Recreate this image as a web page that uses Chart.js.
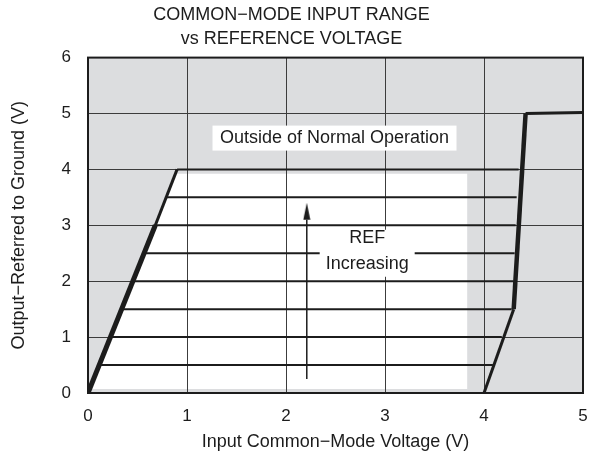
<!DOCTYPE html>
<html>
<head>
<meta charset="utf-8">
<script src="https://cdn.jsdelivr.net/npm/chart.js@4.4.0/dist/chart.umd.min.js"></script>
<style>
  html, body { margin: 0; padding: 0; background: #fff; }
  #wrap { width: 593px; height: 461px; }
</style>
</head>
<body>
<div id="wrap"><canvas id="chart" width="593" height="461"></canvas></div>
<script>
const xTicks = [0, 1, 2, 3, 4, 5];
const yTicks = [0, 1, 2, 3, 4, 5, 6];

// grey "outside" area and the white normal-operation area
const outsideX = [0, 5, 5, 0, 0];
const outsideY = [0, 0, 6, 6, 0];
const normalX = [0.02, 3.83, 3.83, 0.88, 0.02];
const normalY = [0.07, 0.07, 3.92, 3.92, 0.07];

// one horizontal line per REF step
const refLevels = [0.5, 1.0, 1.5, 2.0, 2.5, 3.0, 3.5, 4.0];
const refStart = [0.11, 0.22, 0.34, 0.45, 0.56, 0.67, 0.79, 0.90];
const refEnd = [4.09, 4.18, 4.28, 4.30, 4.31, 4.32, 4.33, 4.35];

// boundaries of the range
const leftEdgeX = [0, 0.68, 0.9];
const leftEdgeY = [0, 3.0, 4.0];
const rightEdgeX = [4.0, 4.3, 4.42, 5.0];
const rightEdgeY = [0, 1.5, 5.0, 5.02];

// "REF increasing" arrow
const arrowX = [2.21, 2.21];
const arrowY = [0.25, 3.1];

const FONT = "'Liberation Sans', Arial, sans-serif";
const INK = "#1c1c1c";

const pts = (xs, ys) => xs.map((x, i) => ({ x: x, y: ys[i] }));

// narrow arrow head, tip at the top of the upper half
const head = document.createElement("canvas");
head.width = 8;
head.height = 34;
const hc = head.getContext("2d");
hc.fillStyle = INK;
hc.beginPath();
hc.moveTo(4, 0);
hc.lineTo(7.5, 17);
hc.lineTo(0.5, 17);
hc.closePath();
hc.fill();

const notes = [
  { x: 2.49, y: 4.56, w: 244, h: 25, dy: 0, lines: ["Outside of Normal Operation"] },
  { x: 2.82, y: 2.50, w: 95, h: 47, dy: -2, lines: ["REF", "Increasing"] },
];

const notesPlugin = {
  id: "notes",
  afterDatasetsDraw(chart) {
    const { ctx, scales } = chart;
    ctx.save();
    ctx.font = "18px " + FONT;
    ctx.textAlign = "center";
    ctx.textBaseline = "middle";
    notes.forEach((n) => {
      const cx = scales.x.getPixelForValue(n.x);
      const cy = scales.y.getPixelForValue(n.y);
      ctx.fillStyle = "#fff";
      ctx.fillRect(cx - n.w / 2, cy - n.h / 2, n.w, n.h);
      ctx.fillStyle = INK;
      const lh = 25.5;
      const y0 = cy + n.dy - ((n.lines.length - 1) * lh) / 2;
      n.lines.forEach((t, i) => ctx.fillText(t, cx, y0 + i * lh));
    });
    ctx.restore();
  },
  afterDraw(chart) {
    const { ctx, chartArea: a } = chart;
    ctx.save();
    ctx.strokeStyle = INK;
    ctx.lineWidth = 2;
    ctx.strokeRect(a.left, a.top, a.right - a.left, a.bottom - a.top);
    ctx.restore();
  },
};

const plain = { showLine: true, pointRadius: 0, fill: false, borderColor: INK };

const datasets = [
  { data: pts(outsideX, outsideY), showLine: true, pointRadius: 0, fill: "shape",
    backgroundColor: "#dcdddf", borderColor: "rgba(0,0,0,0)", borderWidth: 0, order: 10 },
  { data: pts(normalX, normalY), showLine: true, pointRadius: 0, fill: "shape",
    backgroundColor: "#ffffff", borderColor: "rgba(0,0,0,0)", borderWidth: 0, order: 9 },
];

refLevels.forEach((lv, i) => {
  datasets.push({ ...plain, data: [{ x: refStart[i], y: lv }, { x: refEnd[i], y: lv }], borderWidth: 2 });
});

datasets.push({ ...plain, data: pts(leftEdgeX, leftEdgeY), borderWidth: 3,
  segment: { borderWidth: (c) => (c.p0DataIndex === 0 ? 5 : 3) } });
datasets.push({ ...plain, data: pts(rightEdgeX, rightEdgeY), borderWidth: 4,
  segment: { borderWidth: (c) => [3, 4.5, 3][c.p0DataIndex] } });
datasets.push({ ...plain, data: pts(arrowX, arrowY), borderWidth: 1.5,
  pointRadius: [0, 4], pointStyle: ["circle", head] });

const tickFont = { family: FONT, size: 17 };
const titleFont = { family: FONT, size: 18 };

new Chart(document.getElementById("chart"), {
  type: "scatter",
  data: { datasets },
  options: {
    responsive: false,
    animation: false,
    layout: { padding: { right: 10 } },
    plugins: {
      legend: { display: false },
      tooltip: { enabled: false },
      filler: { drawTime: "beforeDraw" },
      title: {
        display: true,
        text: ["COMMON−MODE INPUT RANGE", "vs REFERENCE VOLTAGE"],
        font: { family: FONT, size: 18, weight: "normal", lineHeight: 1.35 },
        color: INK,
        padding: { top: 3, bottom: 6 },
      },
    },
    scales: {
      x: {
        type: "linear",
        min: 0,
        max: 5,
        afterBuildTicks: (s) => { s.ticks = xTicks.map((v) => ({ value: v })); },
        afterFit: (s) => { s.height = 68; s.paddingLeft = 0; s.paddingRight = 0; },
        grid: { color: "#3c3c3c", lineWidth: 1, drawTicks: false },
        border: { display: false },
        ticks: { padding: 13, font: tickFont, color: INK },
        title: { display: true, text: "Input Common−Mode Voltage (V)", font: titleFont, color: INK, padding: { top: 0, bottom: 8 } },
      },
      y: {
        type: "linear",
        min: 0,
        max: 6,
        afterBuildTicks: (s) => { s.ticks = yTicks.map((v) => ({ value: v })); },
        afterFit: (s) => { s.width = 88; },
        grid: { color: "#3c3c3c", lineWidth: 1, drawTicks: false },
        border: { display: false },
        ticks: { padding: 17, font: tickFont, color: INK },
        title: { display: true, text: "Output−Referred to Ground (V)", font: titleFont, color: INK, padding: { top: 8, bottom: 0 } },
      },
    },
  },
  plugins: [notesPlugin],
});
</script>
</body>
</html>
